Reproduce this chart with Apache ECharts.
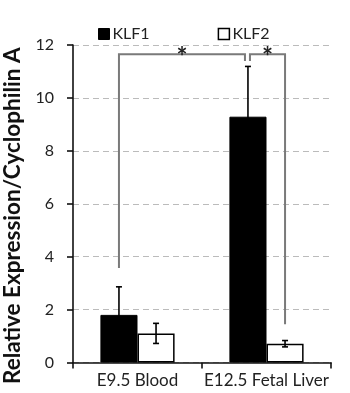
<!DOCTYPE html>
<html><head><meta charset="utf-8">
<script src="https://cdn.jsdelivr.net/npm/echarts@6/dist/echarts.min.js"></script>
<style>html,body{margin:0;padding:0;background:#fff}#c{width:350px;height:393px}</style>
</head><body><div id="c"></div>
<script>
var categories = ['E9.5 Blood', 'E12.5 Fetal Liver'];
var seriesNames = ['KLF1', 'KLF2'];
var klf1 = [1.8, 9.29];
var klf2 = [1.1, 0.71];
var klf1Err = [1.06, 1.9];
var klf2Err = [0.38, 0.12];
var yTicks = [0, 2, 4, 6, 8, 10, 12];
// significance brackets: [catA, seriesA, yLowA, catB, seriesB, yLowB, yTop, label]
var bracketA = [0, 0, 3.57, 1, 0, 11.4, 11.65, '*'];
var bracketB = [1, 0, 11.4, 1, 1, 1.45, 11.65, '*'];

var FONT = 'Lato';
var GAP = 0.425;
var chart = echarts.init(document.getElementById('c'));

function barCenter(api, cat, s) {
  var band = api.size([1, 0])[0];
  var bw = band * (1 - GAP) / 2;
  var c = api.coord([cat, 0])[0];
  return c + (s === 0 ? -bw / 2 : bw / 2);
}

function errSeries(vals, errs, sIdx) {
  var data = vals.map(function (v, i) { return [i, v, errs[i]]; });
  return {
    type: 'custom', z: 5, silent: true,
    data: data,
    renderItem: function (params, api) {
      var cat = api.value(0), v = api.value(1), e = api.value(2);
      var x = barCenter(api, cat, sIdx);
      var top = api.coord([cat, v + e])[1];
      var bot = api.coord([cat, v - e])[1];
      var st = { stroke: '#000', lineWidth: 1.6 };
      return { type: 'group', children: [
        { type: 'line', shape: { x1: x, y1: top, x2: x, y2: bot }, style: st },
        { type: 'line', shape: { x1: x - 3, y1: top, x2: x + 3, y2: top }, style: st },
        { type: 'line', shape: { x1: x - 3, y1: bot, x2: x + 3, y2: bot }, style: st }
      ]};
    }
  };
}

var brackets = [bracketA, bracketB];
var bracketSeries = {
  type: 'custom', z: 6, silent: true,
  data: brackets.map(function (b, i) { return [i].concat(b.slice(0, 7)); }),
  renderItem: function (params, api) {
    var b = brackets[params.dataIndex];
    var xa = barCenter(api, b[0], b[1]);
    var xb = barCenter(api, b[3], b[4]);
    if (params.dataIndex === 0) { xb -= 3; } else { xa += 2; }
    var ya = api.coord([b[0], b[2]])[1];
    var yb = api.coord([b[3], b[5]])[1];
    var yt = api.coord([b[0], b[6]])[1];
    var st = { stroke: '#7a7a7a', lineWidth: 2, fill: null };
    return { type: 'group', children: [
      { type: 'polyline', shape: { points: [[xa, ya], [xa, yt], [xb, yt], [xb, yb]] }, style: st },
      { type: 'text', style: { text: b[7], x: (xa + xb) / 2, y: yt - 10, align: 'center', verticalAlign: 'top',
        font: 'bold 26px ' + FONT, fill: '#222' } }
    ]};
  }
};

chart.setOption({
  animation: false,
  textStyle: { fontFamily: FONT },
  grid: { left: 73, right: 19, top: 45, bottom: 30.5, containLabel: false, outerBoundsMode: 'none' },
  legend: {
    top: 21, left: 93, itemGap: 68, itemWidth: 11, itemHeight: 11,
    textStyle: { fontSize: 16, color: '#222', fontFamily: FONT, padding: [0, 0, 0, -2] },
    data: [
      { name: 'KLF1', icon: 'rect', itemStyle: { color: '#000', borderColor: '#000', borderWidth: 1 } },
      { name: 'KLF2', icon: 'rect', itemStyle: { color: '#fff', borderColor: '#000', borderWidth: 1.5 } }
    ]
  },
  xAxis: {
    type: 'category', data: categories,
    axisLine: { lineStyle: { color: '#111', width: 1.6 } },
    axisTick: { show: true, length: 6, lineStyle: { color: '#111', width: 1.6 } },
    axisLabel: { fontSize: 17, color: '#222', margin: 10, interval: 0, fontFamily: FONT }
  },
  yAxis: {
    type: 'value', min: yTicks[0], max: yTicks[yTicks.length - 1], interval: 2,
    name: 'Relative Expression/Cyclophilin A', nameLocation: 'middle', nameGap: 49,
    nameTextStyle: { fontSize: 22.5, fontWeight: 'bold', color: '#111', fontFamily: FONT, padding: [0, 24, 0, 0] },
    axisLine: { show: true, lineStyle: { color: '#111', width: 1.6 } },
    axisTick: { show: true, length: 6, lineStyle: { color: '#111', width: 1.6 } },
    axisLabel: { fontSize: 16, color: '#222', margin: 19, fontFamily: FONT },
    splitLine: { lineStyle: { color: '#bbb', type: [6, 4], width: 1.2 } }
  },
  series: [
    { name: seriesNames[0], type: 'bar', data: klf1, barCategoryGap: (GAP * 100) + '%', barGap: '0%',
      itemStyle: { color: '#000', borderColor: '#000', borderWidth: 1 } },
    { name: seriesNames[1], type: 'bar', data: klf2, barCategoryGap: (GAP * 100) + '%', barGap: '0%',
      itemStyle: { color: '#fff', borderColor: '#000', borderWidth: 1.5 } },
    errSeries(klf1, klf1Err, 0),
    errSeries(klf2, klf2Err, 1),
    bracketSeries
  ]
});
</script></body></html>
